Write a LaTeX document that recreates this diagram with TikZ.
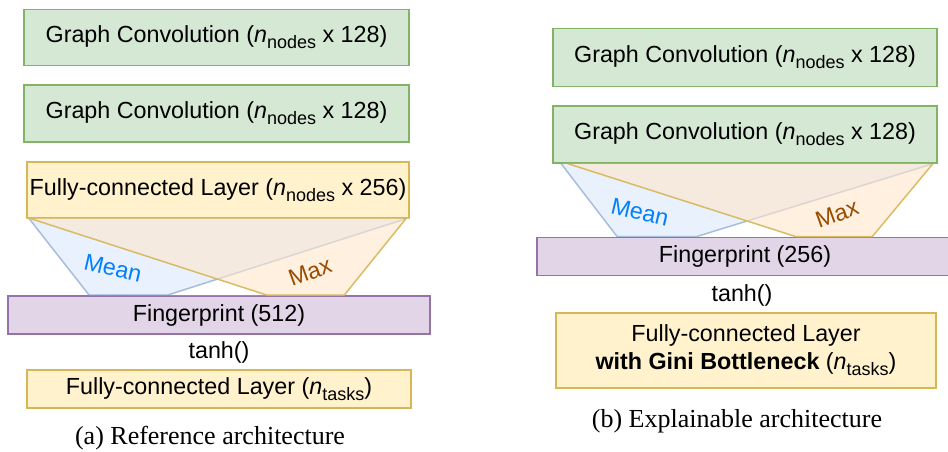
\documentclass[tikz,border=0pt]{standalone}
\usepackage{amsmath}
\usepackage{fontspec}
\setmainfont{Liberation Serif}
\setsansfont{Liberation Sans}
\usetikzlibrary{calc}

\definecolor{gcfill}{HTML}{D5E8D4}
\definecolor{gcline}{HTML}{82B366}
\definecolor{fcfill}{HTML}{FFF2CC}
\definecolor{fcline}{HTML}{D6B656}
\definecolor{fpfill}{HTML}{E1D5E7}
\definecolor{fpline}{HTML}{9673A6}
\definecolor{meanfill}{HTML}{DAE8FC}
\definecolor{meanline}{HTML}{6C8EBF}
\definecolor{maxfill}{HTML}{FFE6CC}
\definecolor{meantext}{HTML}{007FFF}
\definecolor{maxtext}{HTML}{994C00}

\newcommand{\nsub}[1]{\textit{n}\raisebox{-6pt}{\fontsize{18}{20}\selectfont #1}}

\tikzset{
  box/.style={rectangle, inner sep=0pt, line width=1.6pt, font=\sffamily\fontsize{23.3}{28}\selectfont},
  gcbox/.style={box, fill=gcfill, draw=gcline},
  fcbox/.style={box, fill=fcfill, draw=fcline},
  fpbox/.style={box, fill=fpfill, draw=fpline},
  plain/.style={inner sep=0pt, font=\sffamily\fontsize{23.3}{28}\selectfont},
  caption/.style={inner sep=0pt, font=\rmfamily\fontsize{26}{30}\selectfont},
  meanpool/.style={fill=meanfill, draw=meanline, fill opacity=0.6, draw opacity=0.55, line width=1.5pt},
  maxpool/.style={fill=maxfill, draw=fcline, fill opacity=0.6, draw opacity=0.9, line width=1.5pt},
}

\begin{document}
\begin{tikzpicture}[x=1pt, y=-1pt]
				\useasboundingbox (0,0) rectangle (948,451);

				%%% REFERENCE ARCHITECTURE
				\node[gcbox, minimum width=385, minimum height=56] (gcA1) at (216.5,37.5) {Graph Convolution (\nsub{nodes} x 128)};
				\node[gcbox, minimum width=385, minimum height=57] (gcA2) at (216.5,113.5) {Graph Convolution (\nsub{nodes} x 128)};
				\node[fcbox, minimum width=382, minimum height=56] (fcA) at (218,190) {Fully-connected Layer (\nsub{nodes} x 256)};
				\node[fpbox, minimum width=422, minimum height=38] (fpA) at (219,315) {Fingerprint (512)};
				\node[plain] (tanhA) at (219,352) {tanh()};
				\node[fcbox, minimum width=384, minimum height=38] (outA) at (219,389) {Fully-connected Layer (\nsub{tasks})};
				\node[caption] (capA) at (210,438) {(a) Reference architecture};

				%%% POOLING (a)
				\fill[white] (fcA.south west) -- (fcA.south east) -- ($(fpA.north west)+(337,0)$) -- ($(fpA.north west)+(82,0)$) -- cycle;
				\draw[meanpool] ($(fcA.south west)+(3,0)$) -- ($(fpA.north west)+(82,0)$) -- ($(fpA.north west)+(160,0)$) -- ($(fcA.south east)+(-4,0)$);
				\draw[maxpool] ($(fcA.south west)+(5,0)$) -- ($(fpA.north west)+(260,0)$) -- ($(fpA.north west)+(337,0)$) -- ($(fcA.south east)+(-4,0)$);
				\node[plain, text=meantext, rotate=-13] (meanA) at (113,268) {Mean};
				\node[plain, text=maxtext, rotate=20] (maxA) at (310,272) {Max};

				%%% EXPLAINABLE ARCHITECTURE
				\node[gcbox, minimum width=384, minimum height=58] (gcB1) at (745,57.5) {Graph Convolution (\nsub{nodes} x 128)};
				\node[gcbox, minimum width=384, minimum height=57] (gcB2) at (745,134.5) {Graph Convolution (\nsub{nodes} x 128)};
				\node[fpbox, minimum width=414, minimum height=38] (fpB) at (744,256.5) {};
				\node[plain] (fpBtext) at (745,256.5) {Fingerprint (256)};
				\node[plain] (tanhB) at (742,295) {tanh()};
				\node[fcbox, minimum width=380, minimum height=75, align=center] (outB) at (746,350.5) {Fully-connected Layer\\\textbf{with Gini Bottleneck} (\nsub{tasks})};
				\node[caption] (capB) at (737,421) {(b) Explainable architecture};

				%%% POOLING (b)
				\draw[meanpool] ($(gcB2.south west)+(9,0)$) -- ($(fpB.north west)+(81,0)$) -- ($(fpB.north west)+(160,0)$) -- ($(gcB2.south east)+(-5,0)$);
				\draw[maxpool] ($(gcB2.south west)+(16,0)$) -- ($(fpB.north west)+(260,0)$) -- ($(fpB.north west)+(336,0)$) -- ($(gcB2.south east)+(-5,0)$);
				\node[plain, text=meantext, rotate=-13] (meanB) at (640,212) {Mean};
				\node[plain, text=maxtext, rotate=20] (maxB) at (837,214) {Max};
\end{tikzpicture}
\end{document}
